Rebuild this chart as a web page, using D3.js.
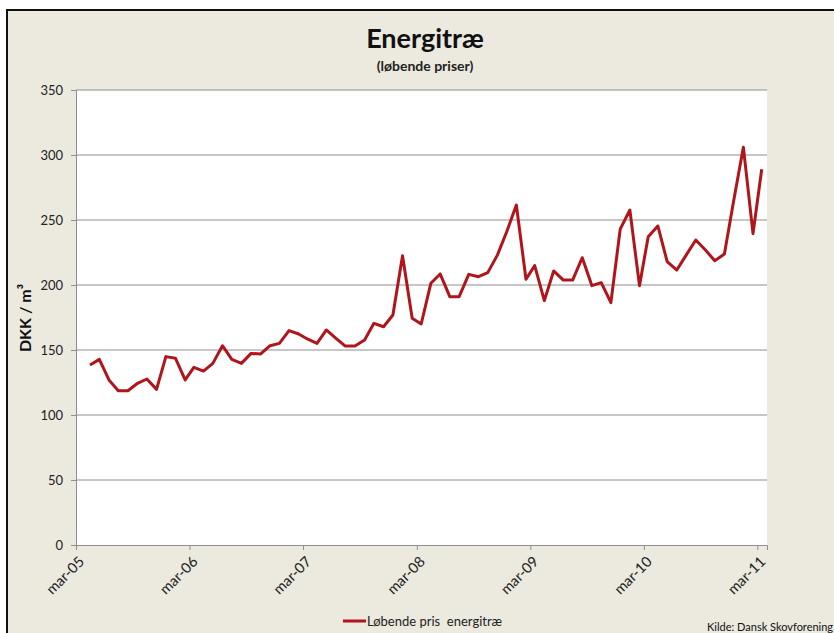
<!DOCTYPE html>
<html>
<head>
<meta charset="utf-8">
<script src="https://cdn.jsdelivr.net/npm/d3@7"></script>
<style>
body { margin: 0; background: #fff; }
svg { display: block; font-family: Lato, "Open Sans", sans-serif; }
</style>
</head>
<body>
<svg class="chart" width="834" height="633"></svg>
<script>
// månedlige priser, apr-05 .. mar-11
var months = d3.timeMonths(new Date(2005, 3, 1), new Date(2011, 3, 1));
var prices = [
    138.5, 142.8, 127, 118.7, 118.7, 124.4, 127.7, 119.7, 144.9, 143.6, 127, 136.7,
    133.8, 139.7, 153.3, 142.8, 139.7, 147.4, 146.9, 153.3, 155.1, 164.9, 162.3, 158.5,
    155.1, 165.4, 159, 153, 153, 157.7, 170.5, 167.9, 176.9, 222.5, 174.4, 170,
    201.3, 208.5, 191, 191, 208.2, 206.4, 209.5, 223, 241, 261.5, 204.4, 214.9,
    188, 210.8, 203.8, 203.8, 221, 199.5, 201.8, 186.4, 243, 257.7, 199.5, 237.2,
    245.4, 218, 211.5, 223, 234.6, 226.9, 218.7, 223.8, 265, 306, 239.5, 289
];
var yTicks = [0, 50, 100, 150, 200, 250, 300, 350];
var tickYears = [2005, 2006, 2007, 2008, 2009, 2010, 2011];
var xTicks = tickYears.map(function(yr) { return new Date(yr, 2, 1); });

var data = months.map(function(m, i) {
    // punkt midt i måneden
    return { date: new Date(m.getFullYear(), m.getMonth(), 15), value: prices[i] };
});

var margin = { left: 76, top: 90, right: 767, bottom: 545 };

var x = d3.scaleTime()
    .domain([new Date(2005, 2, 1), new Date(2011, 3, 1)])
    .range([margin.left, margin.right]);

var y = d3.scaleLinear()
    .domain([0, 350])
    .range([margin.bottom, margin.top]);

var svg = d3.select(".chart");

// baggrund + ramme
svg.append("rect")
    .attr("x", 7).attr("y", 10)
    .attr("width", 840).attr("height", 640)
    .attr("fill", "#ece9df")
    .attr("stroke", "#111")
    .attr("stroke-width", 2);

svg.append("rect")
    .attr("x", margin.left).attr("y", margin.top)
    .attr("width", margin.right - margin.left)
    .attr("height", margin.bottom - margin.top)
    .attr("fill", "#fff");

// gitterlinjer
svg.append("g").selectAll("line")
    .data(yTicks.filter(function(d) { return d > 0; }))
    .enter().append("line")
    .attr("x1", margin.left).attr("x2", margin.right)
    .attr("y1", function(d) { return y(d); })
    .attr("y2", function(d) { return y(d); })
    .attr("stroke", "#8e8e8e")
    .attr("stroke-width", 1);

var yAxis = svg.append("g")
    .attr("transform", "translate(" + margin.left + ",0)")
    .call(d3.axisLeft(y).tickValues(yTicks).tickSize(5).tickPadding(8));

var xAxis = svg.append("g")
    .attr("transform", "translate(0," + margin.bottom + ")")
    .call(d3.axisBottom(x).tickValues(xTicks).tickSize(5)
        .tickFormat(function(d) { return "mar-" + d3.timeFormat("%y")(d); }));

[yAxis, xAxis].forEach(function(a) {
    a.select(".domain").attr("stroke", "#8e8e8e");
    a.selectAll(".tick line").attr("stroke", "#8e8e8e");
    a.selectAll("text")
        .attr("fill", "#222")
        .style("font-family", "Lato, sans-serif")
        .style("font-size", "13px");
});

xAxis.selectAll("text")
    .style("font-size", "14.5px")
    .attr("text-anchor", "end")
    .attr("transform", "translate(5,14) rotate(-45)")
    .attr("dy", "0.35em")
    .attr("y", 0).attr("x", 0);

// linjen
var line = d3.line()
    .x(function(d) { return x(d.date); })
    .y(function(d) { return y(d.value); });

svg.append("path")
    .datum(data)
    .attr("d", line)
    .attr("fill", "none")
    .attr("stroke", "#b0151b")
    .attr("stroke-width", 3)
    .attr("stroke-linejoin", "round");

// tekster
svg.append("text")
    .attr("x", 425).attr("y", 48)
    .attr("text-anchor", "middle")
    .style("font-size", "27px").style("font-weight", "bold")
    .attr("fill", "#111")
    .text("Energitræ");

svg.append("text")
    .attr("x", 425).attr("y", 71)
    .attr("text-anchor", "middle")
    .style("font-size", "14px").style("font-weight", "bold")
    .attr("fill", "#222")
    .text("(løbende priser)");

svg.append("text")
    .attr("transform", "translate(31,318) rotate(-90)")
    .attr("text-anchor", "middle")
    .style("font-size", "16px").style("font-weight", "bold")
    .attr("fill", "#111")
    .text("DKK / m³");

// legende
svg.append("line")
    .attr("x1", 343).attr("x2", 366)
    .attr("y1", 621).attr("y2", 621)
    .attr("stroke", "#b0151b")
    .attr("stroke-width", 3);

svg.append("text")
    .attr("x", 367).attr("y", 626)
    .style("font-size", "13px")
    .style("white-space", "pre")
    .attr("fill", "#222")
    .text("Løbende pris  energitræ");

svg.append("text")
    .attr("x", 707).attr("y", 631)
    .style("font-size", "11px")
    .attr("fill", "#111")
    .text("Kilde: Dansk Skovforening");
</script>
</body>
</html>
